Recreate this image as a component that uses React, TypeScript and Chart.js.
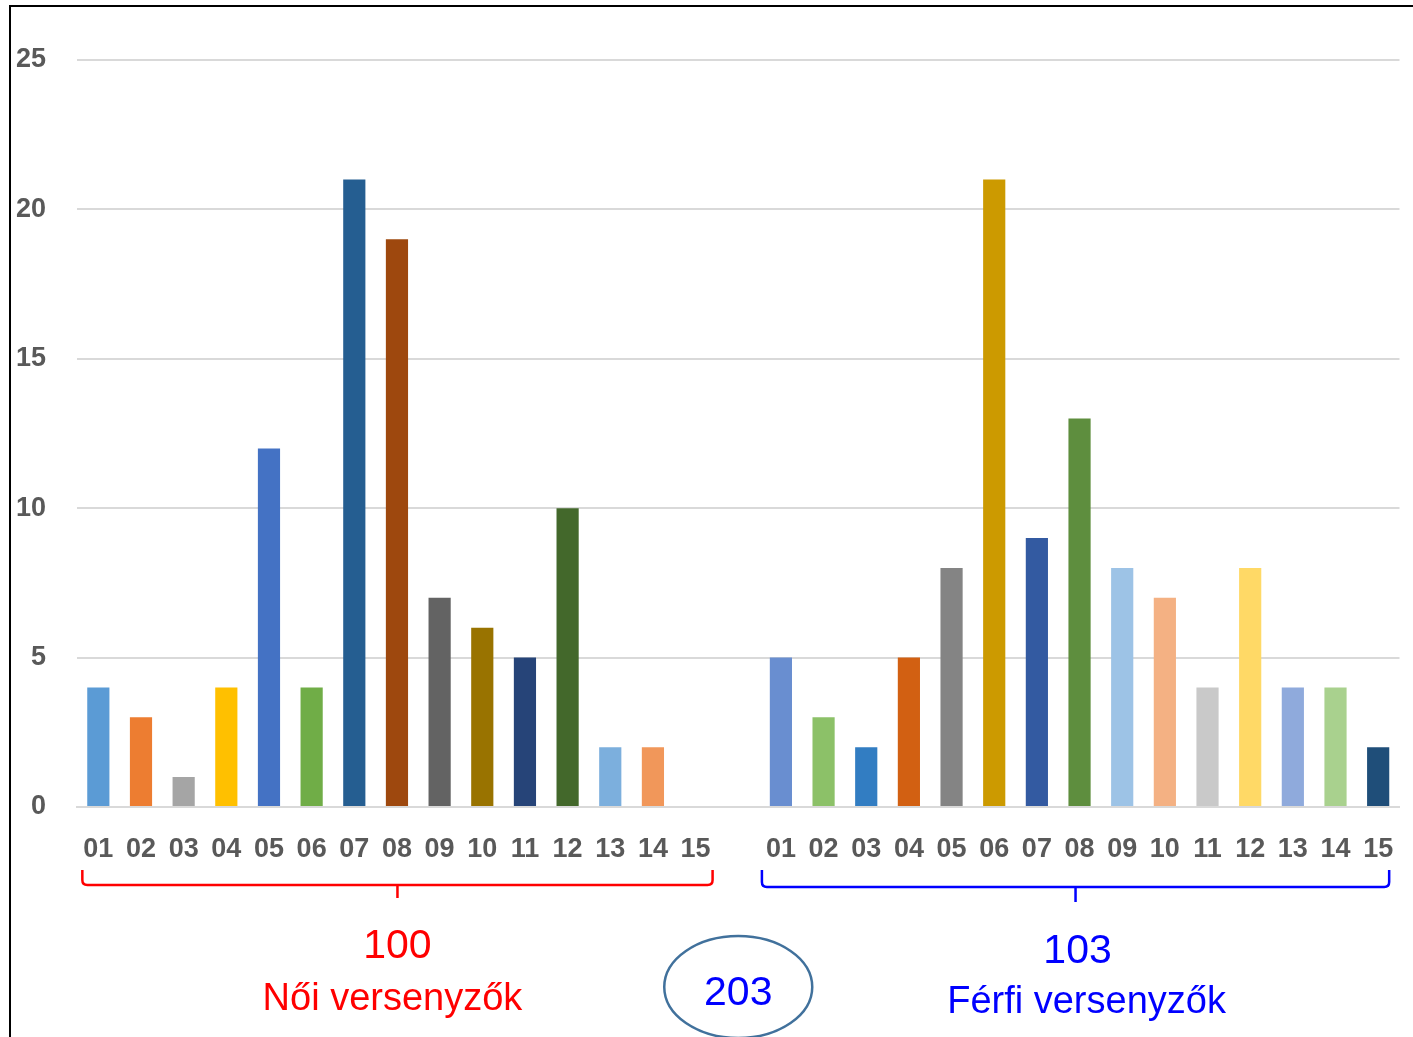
import React, { useEffect, useRef } from "react";
import { Chart, registerables } from "chart.js";

Chart.register(...registerables);

const categories = ["01","02","03","04","05","06","07","08","09","10","11","12","13","14","15"];
const femaleValues = [4, 3, 1, 4, 12, 4, 21, 19, 7, 6, 5, 10, 2, 2, 0];
const maleValues = [5, 3, 2, 5, 8, 21, 9, 13, 8, 7, 4, 8, 4, 4, 2];
const femaleColors = ["#5B9BD5","#ED7D31","#A5A5A5","#FFC000","#4472C4","#70AD47","#255E91","#9E480E","#636363","#997300","#264478","#43682B","#7CAFDD","#F1975A","#B7B7B7"];
const maleColors = ["#698ED0","#8CC168","#327DC2","#D26012","#848484","#CC9A00","#335AA1","#5E8E3E","#9DC3E6","#F4B183","#C9C9C9","#FFD966","#8FAADC","#A9D18E","#1F4E79"];
const femaleTotal = "100";
const maleTotal = "103";
const grandTotal = "203";
const femaleLabel = "Női versenyzők";
const maleLabel = "Férfi versenyzők";
const yTicks = [0, 5, 10, 15, 20, 25];

export default function App() {
  const ref = useRef<HTMLCanvasElement>(null);
  useEffect(() => {
    const labels = [...categories, "", ...categories];
    const data = [...femaleValues, null, ...maleValues];
    const colors = [...femaleColors, "#ffffff", ...maleColors];
    const annot = {
      id: "annot",
      afterDraw(chart: any) {
        const ctx = chart.ctx;
        const x = chart.scales.x;
        const bracket = (x1: number, x2: number, yTop: number, yLine: number, yTick: number, color: string) => {
          const r = 5;
          const mid = (x1 + x2) / 2;
          ctx.save();
          ctx.strokeStyle = color;
          ctx.lineWidth = 2.5;
          ctx.beginPath();
          ctx.moveTo(x1, yTop);
          ctx.lineTo(x1, yLine - r);
          ctx.quadraticCurveTo(x1, yLine, x1 + r, yLine);
          ctx.lineTo(x2 - r, yLine);
          ctx.quadraticCurveTo(x2, yLine, x2, yLine - r);
          ctx.lineTo(x2, yTop);
          ctx.moveTo(mid, yLine);
          ctx.lineTo(mid, yTick);
          ctx.stroke();
          ctx.restore();
        };
        const f0 = x.getPixelForValue(0);
        const f14 = x.getPixelForValue(14);
        const m0 = x.getPixelForValue(16);
        const m14 = x.getPixelForValue(30);
        bracket(f0 - 16, f14 + 17, 870, 885, 898, "#FF0000");
        bracket(m0 - 19, m14 + 11, 870, 887, 902, "#0000FF");
        const fMid = (f0 - 16 + f14 + 17) / 2;
        const mMid = (m0 - 19 + m14 + 11) / 2;
        ctx.save();
        ctx.textAlign = "center";
        ctx.textBaseline = "alphabetic";
        ctx.fillStyle = "#FF0000";
        ctx.font = "41px 'Liberation Sans', Arial, sans-serif";
        ctx.fillText(femaleTotal, fMid, 958);
        ctx.font = "38px 'Liberation Sans', Arial, sans-serif";
        ctx.fillText(femaleLabel, fMid - 5, 1010);
        ctx.fillStyle = "#0000FF";
        ctx.font = "41px 'Liberation Sans', Arial, sans-serif";
        ctx.fillText(maleTotal, mMid + 2, 963);
        ctx.font = "38px 'Liberation Sans', Arial, sans-serif";
        ctx.fillText(maleLabel, mMid + 11, 1013);
        const cx = (f14 + m0) / 2;
        ctx.beginPath();
        ctx.ellipse(cx, 987, 74, 51, 0, 0, Math.PI * 2);
        ctx.strokeStyle = "#41719C";
        ctx.lineWidth = 2.5;
        ctx.stroke();
        ctx.fillStyle = "#0000FF";
        ctx.font = "41px 'Liberation Sans', Arial, sans-serif";
        ctx.fillText(grandTotal, cx, 1005);
        ctx.restore();
      },
    };
    const chart = new Chart(ref.current!, {
      type: "bar",
      data: {
        labels,
        datasets: [{ data, backgroundColor: colors, barPercentage: 0.52, categoryPercentage: 1 }],
      },
      options: {
        animation: false,
        responsive: false,
        maintainAspectRatio: false,
        layout: { padding: { left: 0, right: 13.5, top: 60, bottom: 0 } },
        plugins: { legend: { display: false }, tooltip: { enabled: false } },
        scales: {
          x: {
            grid: { display: false },
            border: { display: true, color: "#D9D9D9", width: 2 },
            ticks: {
              color: "#595959",
              font: { family: "'Liberation Sans', Arial, sans-serif", size: 27, weight: "bold" },
              padding: 18,
              autoSkip: false,
              maxRotation: 0,
            },
            afterFit: (s: any) => { s.height = 230; },
          },
          y: {
            min: 0,
            max: 25,
            afterBuildTicks: (s: any) => { s.ticks = yTicks.map((v) => ({ value: v })); },
            grid: { color: "#D9D9D9", lineWidth: 2, drawTicks: false },
            border: { display: false },
            ticks: {
              color: "#595959",
              font: { family: "'Liberation Sans', Arial, sans-serif", size: 27, weight: "bold" },
              padding: 31,
            },
            afterFit: (s: any) => { s.width = 77; },
          },
        },
      },
      plugins: [annot],
    });
    return () => chart.destroy();
  }, []);
  return (
    <div style={{ position: "absolute", left: 0, top: 0, width: 1413, height: 1037, background: "#fff", overflow: "hidden" }}>
      <div style={{ position: "absolute", left: 9, top: 5, width: 1420, height: 1050, borderLeft: "2px solid #000", borderTop: "2px solid #000" }} />
      <canvas ref={ref} width={1413} height={1037} style={{ position: "absolute", left: 0, top: 0, width: 1413, height: 1037 }} />
    </div>
  );
}
